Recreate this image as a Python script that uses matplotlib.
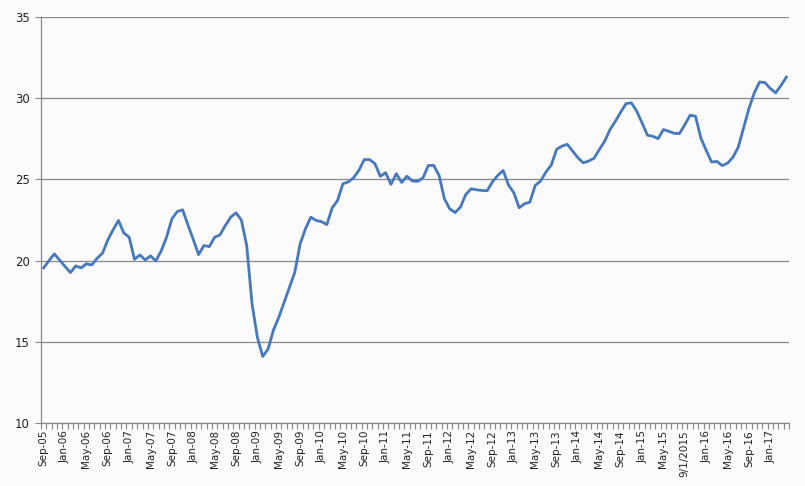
import matplotlib
matplotlib.use("Agg")
import matplotlib.pyplot as plt
from matplotlib.ticker import FixedLocator

# Monthly values, Sep-05 .. Apr-17
values = [
    19.55, 20.0, 20.41, 20.03, 19.64, 19.26, 19.67, 19.55, 19.8, 19.73,
    20.14, 20.45, 21.27, 21.9, 22.47, 21.7, 21.44, 20.08, 20.35, 20.04,
    20.29, 19.98, 20.6, 21.44, 22.57, 23.02, 23.13, 22.2, 21.3, 20.37,
    20.93, 20.86, 21.44, 21.58, 22.16, 22.67, 22.94, 22.5, 20.93, 17.33,
    15.27, 14.1, 14.55, 15.72, 16.5, 17.43, 18.35, 19.28, 21.03, 21.96,
    22.67, 22.47, 22.4, 22.22, 23.25, 23.7, 24.73, 24.84, 25.1, 25.56,
    26.22, 26.22, 25.97, 25.19, 25.41, 24.69, 25.35, 24.81, 25.2, 24.9,
    24.88, 25.1, 25.86, 25.86, 25.25, 23.81, 23.19, 22.96, 23.29, 24.07,
    24.42, 24.36, 24.32, 24.3, 24.85, 25.25, 25.55, 24.65, 24.18, 23.25,
    23.5, 23.6, 24.63, 24.9, 25.45, 25.88, 26.85, 27.05, 27.16, 26.75,
    26.33, 26.02, 26.13, 26.3, 26.84, 27.35, 28.07, 28.58, 29.14, 29.67,
    29.71, 29.2, 28.48, 27.72, 27.66, 27.51, 28.07, 27.96, 27.84, 27.82,
    28.37, 28.95, 28.89, 27.55, 26.79, 26.07, 26.11, 25.85, 26.0, 26.36,
    26.98, 28.17, 29.36, 30.33, 31.0, 30.96, 30.6, 30.33, 30.78, 31.3,
]

tick_labels = [
    "Sep-05", "Jan-06", "May-06", "Sep-06", "Jan-07", "May-07", "Sep-07",
    "Jan-08", "May-08", "Sep-08", "Jan-09", "May-09", "Sep-09", "Jan-10",
    "May-10", "Sep-10", "Jan-11", "May-11", "Sep-11", "Jan-12", "May-12",
    "Sep-12", "Jan-13", "May-13", "Sep-13", "Jan-14", "May-14", "Sep-14",
    "Jan-15", "May-15", "9/1/2015", "Jan-16", "May-16", "Sep-16", "Jan-17",
]
y_ticks = [10, 15, 20, 25, 30, 35]

W, H = 805, 486
fig = plt.figure(figsize=(W / 100, H / 100), dpi=100)
fig.patch.set_facecolor("#fbfbfb")
ax = fig.add_axes([41 / W, (H - 423) / H, (789 - 41) / W, (423 - 17) / H])
ax.set_facecolor("#fbfbfb")

x = list(range(len(values)))
ax.plot(x, values, color="#4678BE", linewidth=2.0, solid_joinstyle="round", zorder=3)

ax.set_xlim(-0.5, len(values) - 0.5)
ax.set_ylim(10, 35)

grid_color = "#878787"
ax.set_yticks(y_ticks)
ax.set_yticklabels([str(v) for v in y_ticks], fontsize=8.5, color="#222222")
ax.yaxis.grid(True, color=grid_color, linewidth=0.9)
ax.set_axisbelow(True)

ax.set_xticks(list(range(0, len(values), 4)))
ax.set_xticklabels(tick_labels, rotation=90, fontsize=7.5, color="#222222")
ax.xaxis.set_minor_locator(FixedLocator([k - 0.5 for k in range(len(values) + 1)]))
ax.tick_params(axis="x", which="major", length=0, pad=5)
ax.tick_params(axis="x", which="minor", length=4, color=grid_color, width=0.8)
ax.tick_params(axis="y", length=4, color=grid_color, width=0.8, pad=4)

for s in ["top", "right"]:
    ax.spines[s].set_visible(False)
for s in ["left", "bottom"]:
    ax.spines[s].set_color(grid_color)
    ax.spines[s].set_linewidth(0.9)

fig.savefig("out.png", dpi=100, facecolor=fig.get_facecolor())
